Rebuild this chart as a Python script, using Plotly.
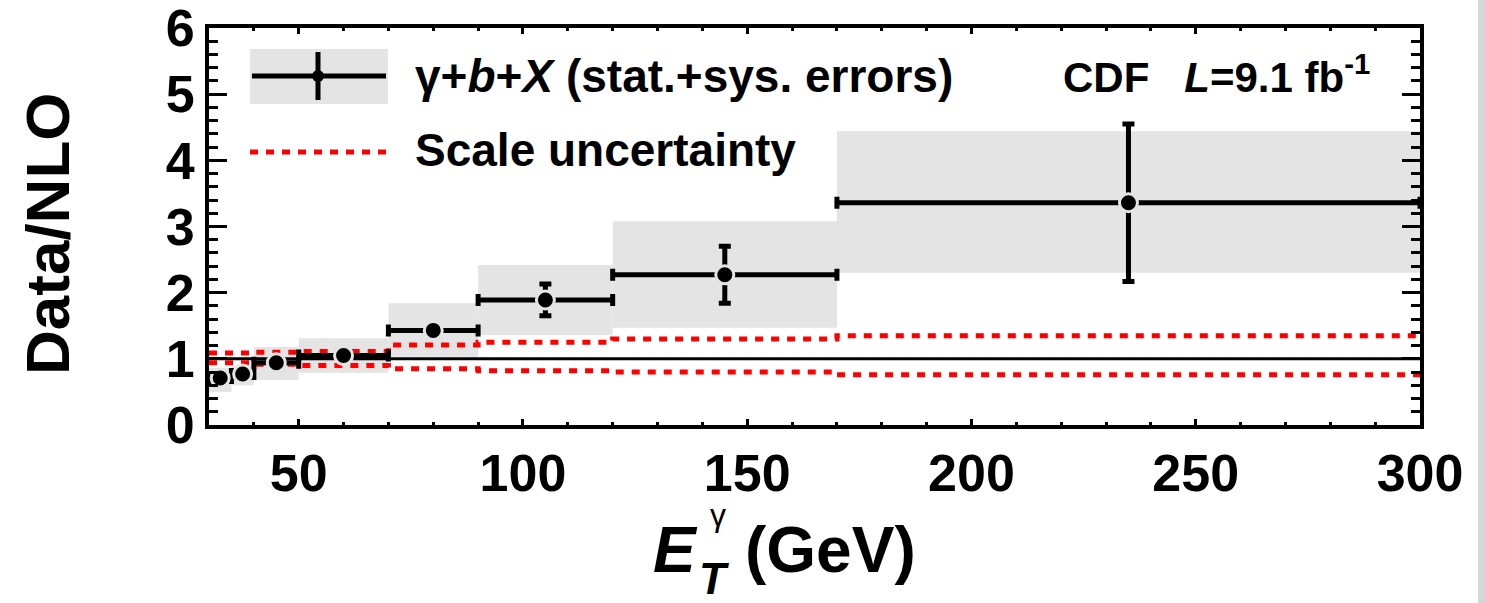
import plotly.graph_objects as go

# Photon + b-jet cross section ratio to NLO, CDF 9.1 fb^-1
bin_lo = [30, 35, 40, 50, 70, 90, 120, 170]
bin_hi = [35, 40, 50, 70, 90, 120, 170, 300]
et_center = [32.5, 37.5, 45, 60, 80, 105, 145, 235]
ratio = [0.71, 0.77, 0.94, 1.05, 1.43, 1.89, 2.27, 3.36]
stat_err = [0.03, 0.03, 0.03, 0.05, 0.08, 0.24, 0.43, 1.19]
total_lo = [0.50, 0.60, 0.68, 0.79, 1.03, 1.36, 1.47, 2.30]
total_hi = [0.86, 0.90, 1.18, 1.31, 1.84, 2.42, 3.08, 4.44]
scale_up = [1.09, 1.09, 1.10, 1.11, 1.21, 1.25, 1.30, 1.35]
scale_dn = [0.94, 0.94, 0.92, 0.90, 0.85, 0.82, 0.80, 0.76]

x_ticks = [50, 100, 150, 200, 250, 300]
y_ticks = [0, 1, 2, 3, 4, 5, 6]

FONT = "Liberation Sans"
GREY = "#e4e4e4"

# plot-area geometry in pixels
W, H = 1485, 603
L, R, T, B = 209, 1420, 28, 425


def px(x):
    return (x - L) / (R - L)


def py(y):
    return (B - y) / (B - T)


fig = go.Figure()

# total (stat.+sys.) uncertainty boxes
fig.add_trace(go.Bar(
    x=[(a + b) / 2 for a, b in zip(bin_lo, bin_hi)],
    y=[h - l for l, h in zip(total_lo, total_hi)],
    base=total_lo,
    width=[b - a for a, b in zip(bin_lo, bin_hi)],
    marker=dict(color=GREY, line=dict(width=0)),
    showlegend=False, hoverinfo="skip",
))

# unity reference line
fig.add_trace(go.Scatter(
    x=[bin_lo[0], bin_hi[-1]], y=[1, 1], mode="lines",
    line=dict(color="black", width=3), showlegend=False,
))

# NLO scale uncertainty band edges
edges = bin_lo + [bin_hi[-1]]
for band in (scale_up, scale_dn):
    fig.add_trace(go.Scatter(
        x=edges, y=band + [band[-1]], mode="lines",
        line=dict(color="#ff0000", width=5, dash="8px,8px", shape="hv"),
        showlegend=False,
    ))

# data points
fig.add_trace(go.Scatter(
    x=et_center, y=ratio, mode="markers",
    marker=dict(symbol="circle", size=18, color="black",
                line=dict(color=GREY, width=3)),
    error_x=dict(type="data", symmetric=False,
                 array=[h - c for h, c in zip(bin_hi, et_center)],
                 arrayminus=[c - l for l, c in zip(bin_lo, et_center)],
                 thickness=5, width=6, color="black"),
    error_y=dict(type="data", array=stat_err, thickness=5, width=6,
                 color="black"),
    showlegend=False,
))

tick_font = dict(family=FONT, size=52, color="black", weight="bold")

fig.update_xaxes(
    range=[30, 300], tickvals=x_ticks, ticktext=[str(v) for v in x_ticks],
    ticks="inside", ticklen=6, tickwidth=3, tickcolor="black",
    minor=dict(dtick=10, tick0=0, ticks="inside", ticklen=3, tickwidth=3,
               tickcolor="black"),
    showline=True, linewidth=4, linecolor="black", mirror="ticks",
    showgrid=False, zeroline=False, tickfont=tick_font,
    ticklabeloverflow="allow", automargin=False,
)
fig.update_yaxes(
    range=[0, 6], tickvals=y_ticks, ticktext=[str(v) for v in y_ticks],
    ticks="inside", ticklen=18, tickwidth=3, tickcolor="black",
    minor=dict(dtick=0.2, tick0=0, ticks="inside", ticklen=9, tickwidth=3,
               tickcolor="black"),
    showline=True, linewidth=4, linecolor="black", mirror="ticks",
    showgrid=False, zeroline=False, tickfont=tick_font,
    ticklabeloverflow="allow", automargin=False,
)

shapes = [
    # legend: grey error box behind the data marker
    dict(type="rect", xref="paper", yref="paper",
         x0=px(250), x1=px(388), y0=py(104), y1=py(49),
         fillcolor=GREY, line=dict(width=0), layer="above"),
    dict(type="line", xref="paper", yref="paper",
         x0=px(252), x1=px(386), y0=py(76), y1=py(76),
         line=dict(color="black", width=5), layer="above"),
    dict(type="line", xref="paper", yref="paper",
         x0=px(318), x1=px(318), y0=py(52), y1=py(100),
         line=dict(color="black", width=5), layer="above"),
    dict(type="circle", xref="paper", yref="paper",
         x0=px(312), x1=px(324), y0=py(82), y1=py(70),
         fillcolor="black", line=dict(width=0), layer="above"),
    # legend: scale uncertainty line
    dict(type="line", xref="paper", yref="paper",
         x0=px(250), x1=px(386), y0=py(152), y1=py(152),
         line=dict(color="#ff0000", width=5, dash="8px,8px"), layer="above"),
    # page edge strip
    dict(type="rect", xref="paper", yref="paper",
         x0=px(1478), x1=px(1486), y0=py(603), y1=py(0),
         fillcolor="#d6d6d6", line=dict(width=0), layer="above"),
]


def bold(size):
    return dict(family=FONT, size=size, color="black", weight="bold")


annotations = [
    dict(text="γ+<i>b</i>+<i>X</i> (stat.+sys. errors)",
         x=px(413), y=py(76), xanchor="left", yanchor="middle",
         font=bold(46)),
    dict(text="Scale uncertainty",
         x=px(413), y=py(150), xanchor="left", yanchor="middle",
         font=bold(46)),
    dict(text="CDF   <i>L</i>=9.1 fb<sup>-1</sup>",
         x=px(1372), y=py(74), xanchor="right", yanchor="middle",
         font=bold(42)),
    dict(text="Data/NLO", textangle=-90,
         x=px(47), y=py(234), xanchor="center", yanchor="middle",
         font=bold(62)),
    dict(text="<i>E</i>", x=px(700), y=py(550), xanchor="right",
         yanchor="middle", font=bold(64)),
    dict(text="<i>T</i>", x=px(697), y=py(578), xanchor="left",
         yanchor="middle", font=bold(44)),
    dict(text="γ", x=px(708), y=py(515), xanchor="left",
         yanchor="middle", font=dict(family=FONT, size=32, color="black")),
    dict(text="(GeV)", x=px(743), y=py(550), xanchor="left",
         yanchor="middle", font=bold(64)),
]
for a in annotations:
    a.update(xref="paper", yref="paper", showarrow=False)

fig.update_layout(
    width=W, height=H,
    margin=dict(l=L, r=W - R, t=T, b=H - B, autoexpand=False),
    paper_bgcolor="white", plot_bgcolor="white",
    shapes=shapes, annotations=annotations,
    barmode="overlay", showlegend=False,
)

fig.write_html("out.html")
